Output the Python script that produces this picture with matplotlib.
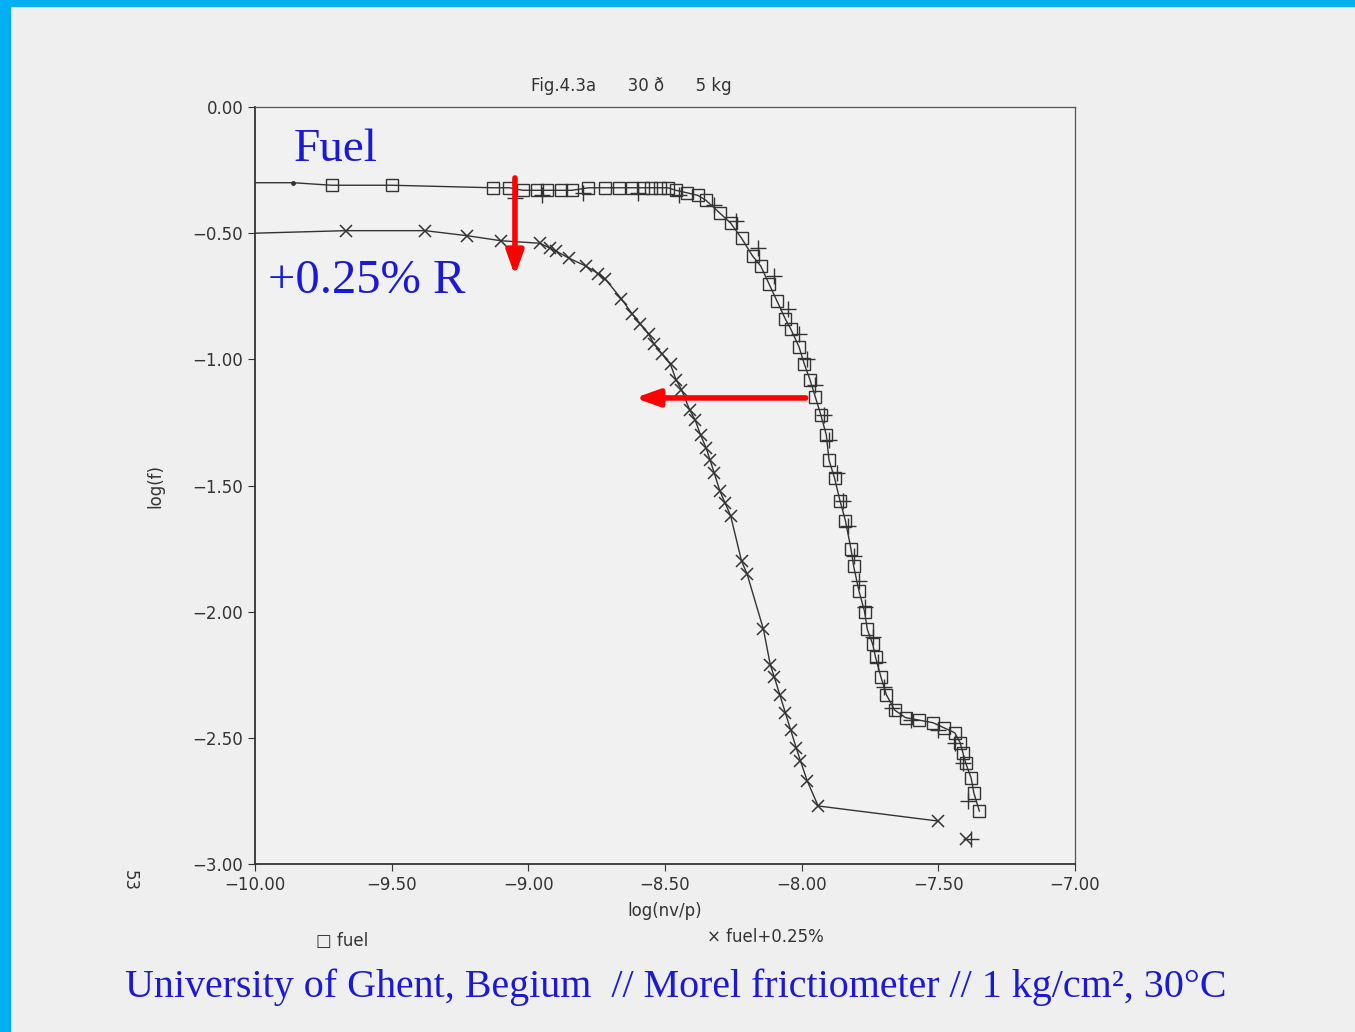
import matplotlib
matplotlib.use("Agg")
import matplotlib.pyplot as plt
from matplotlib.patches import Rectangle

# fuel (squares)
fuel_x = [-10.0, -9.86, -9.72, -9.50, -9.13, -9.07, -9.02, -8.97, -8.93, -8.88, -8.84, -8.78,
          -8.72, -8.67, -8.62, -8.58, -8.55, -8.52, -8.49, -8.46, -8.42, -8.38, -8.35, -8.30,
          -8.26, -8.22, -8.18, -8.15, -8.12, -8.09, -8.06, -8.04, -8.01, -7.99, -7.97, -7.95,
          -7.93, -7.91, -7.90, -7.88, -7.86, -7.84, -7.82, -7.81, -7.79, -7.77, -7.76, -7.74,
          -7.73, -7.71, -7.69, -7.66, -7.62, -7.57, -7.52, -7.48, -7.44, -7.42, -7.41, -7.40,
          -7.38, -7.37, -7.35]
fuel_y = [-0.30, -0.30, -0.31, -0.31, -0.32, -0.32, -0.33, -0.33, -0.33, -0.33, -0.33, -0.32,
          -0.32, -0.32, -0.32, -0.32, -0.32, -0.32, -0.32, -0.33, -0.34, -0.35, -0.37, -0.42,
          -0.46, -0.52, -0.59, -0.63, -0.70, -0.77, -0.84, -0.88, -0.95, -1.02, -1.08, -1.15,
          -1.22, -1.30, -1.40, -1.47, -1.56, -1.64, -1.75, -1.82, -1.92, -2.00, -2.07, -2.13,
          -2.18, -2.26, -2.33, -2.39, -2.42, -2.43, -2.44, -2.46, -2.48, -2.52, -2.56, -2.60,
          -2.66, -2.72, -2.79]

# third trace (plus) running along the fuel curve
plus_x = [-9.05, -8.95, -8.80, -8.60, -8.45, -8.32, -8.24, -8.16, -8.10, -8.05, -8.01, -7.98,
          -7.95, -7.92, -7.90, -7.87, -7.85, -7.83, -7.81, -7.79, -7.77, -7.74, -7.72, -7.70,
          -7.67, -7.60, -7.50, -7.44, -7.41, -7.39, -7.38]
plus_y = [-0.36, -0.35, -0.34, -0.34, -0.35, -0.39, -0.45, -0.56, -0.67, -0.80, -0.90, -1.00,
          -1.10, -1.22, -1.32, -1.45, -1.56, -1.66, -1.78, -1.88, -1.98, -2.10, -2.20, -2.30,
          -2.38, -2.43, -2.47, -2.52, -2.60, -2.75, -2.90]

# fuel + 0.25% R (crosses)
fr_x = [-10.0, -9.667, -9.378, -9.224, -9.10, -8.957, -8.92, -8.90, -8.85, -8.79, -8.745,
        -8.72, -8.66, -8.62, -8.59, -8.56, -8.54, -8.51, -8.48, -8.46, -8.44, -8.41, -8.39,
        -8.37, -8.35, -8.335, -8.32, -8.30, -8.28, -8.26, -8.22, -8.20, -8.14, -8.115,
        -8.10, -8.08, -8.06, -8.04, -8.02, -8.005, -7.98, -7.94, -7.50]
fr_y = [-0.50, -0.49, -0.49, -0.51, -0.53, -0.54, -0.56, -0.57, -0.60, -0.63, -0.66,
        -0.68, -0.76, -0.82, -0.86, -0.90, -0.94, -0.98, -1.02, -1.08, -1.12, -1.20, -1.24,
        -1.30, -1.35, -1.40, -1.45, -1.52, -1.57, -1.62, -1.80, -1.85, -2.07, -2.21,
        -2.26, -2.33, -2.40, -2.47, -2.54, -2.59, -2.67, -2.77, -2.83]

x_ticks = [-10.0, -9.5, -9.0, -8.5, -8.0, -7.5, -7.0]
y_ticks = [0.0, -0.5, -1.0, -1.5, -2.0, -2.5, -3.0]


def fmt(v):
    s = "%.2f" % abs(v)
    return ("\u2212" + s) if v < 0 else s


fig = plt.figure(figsize=(13.55, 10.32), dpi=100)
fig.patch.set_facecolor("#efefef")
fig.patches.append(Rectangle((0, 1 - 6 / 1032), 1, 6 / 1032, transform=fig.transFigure,
                             color="#00b0f0", zorder=5))
fig.patches.append(Rectangle((0, 0), 10 / 1355, 1, transform=fig.transFigure,
                             color="#00b0f0", zorder=5))

ax = fig.add_axes([0.1882, 0.1628, 0.6052, 0.7335])
ax.set_facecolor("#f1f1f1")
ink = "#333333"

# fuel: line from the axis, small dot, then squares
ax.plot(fuel_x, fuel_y, color=ink, lw=1.0)
ax.plot(fuel_x[1:2], fuel_y[1:2], color=ink, marker="o", ms=2.5, ls="none")
ax.plot(fuel_x[2:], fuel_y[2:], marker="s", ms=8, mfc="none", mec=ink, mew=1.0, ls="none")
ax.plot(plus_x, plus_y, color=ink, lw=0.8, marker="+", ms=11, mew=1.0, ls="none")
ax.plot(fr_x, fr_y, color=ink, lw=1.0)
ax.plot(fr_x[1:], fr_y[1:], marker="x", ms=8, mec=ink, mew=1.1, ls="none")
ax.plot([-7.40], [-2.90], color=ink, marker="x", ms=9, mew=1.1)

ax.set_xlim(-10, -7)
ax.set_ylim(-3, 0)
ax.set_xticks(x_ticks)
ax.set_yticks(y_ticks)
ax.set_xticklabels([fmt(v) for v in x_ticks])
ax.set_yticklabels([fmt(v) for v in y_ticks])
ax.tick_params(direction="out", length=5, colors=ink, labelsize=12)
for s in ["left", "bottom"]:
    ax.spines[s].set_color(ink)
    ax.spines[s].set_linewidth(1.3)
for s in ["top", "right"]:
    ax.spines[s].set_color("#555555")
    ax.spines[s].set_linewidth(0.9)
ax.set_xlabel("log(nv/p)", fontsize=12, color=ink, labelpad=6)
ax.set_ylabel("log(f)", fontsize=12, color=ink, labelpad=20)

fig.text(0.392, 0.917, "Fig.4.3a      30 ð      5 kg", fontsize=12, color=ink, va="center")
fig.text(0.096, 0.147, "53", fontsize=12, color=ink, rotation=270, ha="center", va="center")
fig.text(0.233, 0.088, "\u25a1 fuel", fontsize=12, color=ink, va="center")
fig.text(0.522, 0.092, "\u00d7 fuel+0.25%", fontsize=12, color=ink, va="center")

blue = "#1a1ad6"
fig.text(0.217, 0.855, "Fuel", fontsize=34, color=blue, family="Liberation Serif", va="center")
fig.text(0.198, 0.728, "+0.25% R", fontsize=35, color=blue, family="Liberation Serif", va="center")
fig.text(0.092, 0.043, "University of Ghent, Begium  // Morel frictiometer // 1 kg/cm\u00b2, 30\u00b0C",
         fontsize=28.8, color=blue, family="Liberation Serif", va="center")

red = "#ff0000"
ax.annotate("", xy=(-9.049, -0.68), xytext=(-9.049, -0.27),
            arrowprops=dict(arrowstyle="-|>,head_width=0.5,head_length=1.4", color=red, lw=4))
ax.annotate("", xy=(-8.62, -1.153), xytext=(-7.975, -1.153),
            arrowprops=dict(arrowstyle="-|>,head_width=0.5,head_length=1.4", color=red, lw=4))

fig.savefig("out.png", dpi=100, facecolor=fig.get_facecolor())
